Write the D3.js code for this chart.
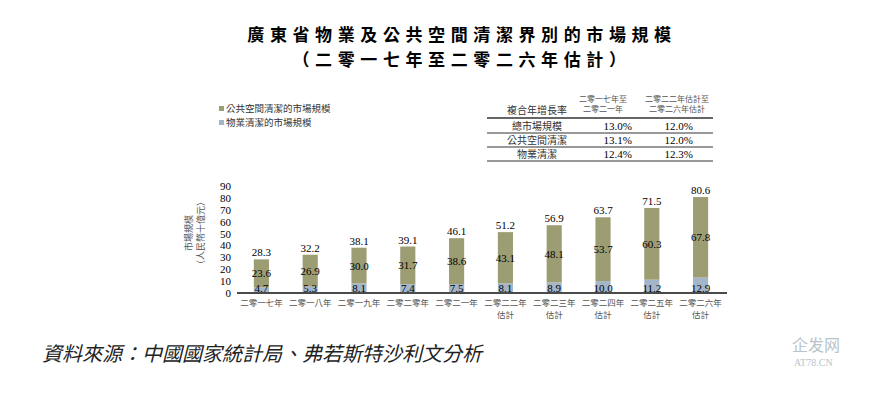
<!DOCTYPE html>
<html>
<head>
<meta charset="utf-8">
<script src="https://cdn.jsdelivr.net/npm/d3@7"></script>
<style>
  body { margin: 0; background: #fff; }
  text { font-family: "Liberation Serif", "Noto Sans CJK TC", serif; }
</style>
</head>
<body>
<script>
// Data
const years = ["二零一七年", "二零一八年", "二零一九年", "二零二零年", "二零二一年",
               "二零二二年\n估計", "二零二三年\n估計", "二零二四年\n估計", "二零二五年\n估計", "二零二六年\n估計"];
const propertyCleaning = [4.7, 5.3, 8.1, 7.4, 7.5, 8.1, 8.9, 10.0, 11.2, 12.9];
const publicCleaning = [23.6, 26.9, 30.0, 31.7, 38.6, 43.1, 48.1, 53.7, 60.3, 67.8];
const totals = [28.3, 32.2, 38.1, 39.1, 46.1, 51.2, 56.9, 63.7, 71.5, 80.6];
const yTicks = [0, 10, 20, 30, 40, 50, 60, 70, 80, 90];
const seriesNames = ["公共空間清潔的市場規模", "物業清潔的市場規模"];
const cagrHeader = ["複合年增長率", "二零一七年至\n二零二一年", "二零二二年估計至\n二零二六年估計"];
const cagrRows = [
  ["總市場規模", "13.0%", "12.0%"],
  ["公共空間清潔", "13.1%", "12.0%"],
  ["物業清潔", "12.4%", "12.3%"]
];

const W = 871, H = 393;
const colPublic = "#9d9d74", colProperty = "#a3b5c9";

const svg = d3.select("body").append("svg")
    .attr("width", W)
    .attr("height", H);

// Title
svg.append("text").attr("x", 462).attr("y", 41).attr("text-anchor", "middle")
    .attr("font-size", 17).attr("font-weight", "bold").attr("letter-spacing", 5.6)
    .style("font-family", "'Noto Sans CJK TC'")
    .text("廣東省物業及公共空間清潔界別的市場規模");
svg.append("text").attr("x", 462).attr("y", 66).attr("text-anchor", "middle")
    .attr("font-size", 17).attr("font-weight", "bold").attr("letter-spacing", 5.6)
    .style("font-family", "'Noto Sans CJK TC'")
    .text("（二零一七年至二零二六年估計）");

// Scales
const x = d3.scaleBand().domain(years).range([237, 725]).paddingInner(0.69).paddingOuter(0.345);
const y = d3.scaleLinear().domain([0, 90]).range([293, 186]);

// Stacked bars
const stacked = years.map((yr, i) => ({ yr, prop: propertyCleaning[i], pub: publicCleaning[i], total: totals[i] }));

svg.selectAll(".bar-prop").data(stacked).enter().append("rect")
    .attr("x", d => x(d.yr)).attr("width", x.bandwidth())
    .attr("y", d => y(d.prop)).attr("height", d => y(0) - y(d.prop))
    .attr("fill", colProperty);

svg.selectAll(".bar-pub").data(stacked).enter().append("rect")
    .attr("x", d => x(d.yr)).attr("width", x.bandwidth())
    .attr("y", d => y(d.prop + d.pub)).attr("height", d => y(d.prop) - y(d.prop + d.pub))
    .attr("fill", colPublic);

// Value labels
const cx = d => x(d.yr) + x.bandwidth() / 2;
svg.selectAll(".lbl-total").data(stacked).enter().append("text")
    .attr("x", cx).attr("y", d => y(d.prop + d.pub) - 3)
    .attr("text-anchor", "middle").attr("font-size", 11).text(d => d.total.toFixed(1));
svg.selectAll(".lbl-pub").data(stacked).enter().append("text")
    .attr("x", cx).attr("y", d => y(d.prop + d.pub / 2) + 4)
    .attr("text-anchor", "middle").attr("font-size", 11).text(d => d.pub.toFixed(1));
svg.selectAll(".lbl-prop").data(stacked).enter().append("text")
    .attr("x", cx).attr("y", 292)
    .attr("text-anchor", "middle").attr("font-size", 11).text(d => d.prop.toFixed(1));

// X axis line
svg.append("line").attr("x1", 237).attr("x2", 727).attr("y1", y(0)).attr("y2", y(0))
    .attr("stroke", "#4a4a4a").attr("stroke-width", 2);

// X labels
years.forEach(yr => {
  yr.split("\n").forEach((ln, j) => {
    svg.append("text").attr("x", x(yr) + x.bandwidth() / 2).attr("y", 306 + j * 12)
      .attr("text-anchor", "middle").attr("font-size", 8.5).attr("fill", "#555")
      .style("font-family", "'Noto Sans CJK TC'").text(ln);
  });
});

// Y ticks
svg.selectAll(".ytick").data(yTicks).enter().append("text")
    .attr("x", 231).attr("y", d => y(d) + 4)
    .attr("text-anchor", "end").attr("font-size", 11).text(d => d);

// Y title
svg.append("text").attr("transform", `translate(192,233) rotate(-90)`)
    .attr("text-anchor", "middle").attr("font-size", 9).attr("fill", "#555")
    .style("font-family", "'Noto Sans CJK TC'").text("市場規模");
svg.append("text").attr("transform", `translate(204,233) rotate(-90)`)
    .attr("text-anchor", "middle").attr("font-size", 9).attr("fill", "#555")
    .style("font-family", "'Noto Sans CJK TC'").text("（人民幣十億元）");

// Legend
[colPublic, colProperty].forEach((c, i) => {
  svg.append("rect").attr("x", 219).attr("y", 106 + i * 14).attr("width", 5).attr("height", 5).attr("fill", c);
  svg.append("text").attr("x", 226).attr("y", 112 + i * 14).attr("font-size", 9.5).attr("fill", "#333")
    .style("font-family", "'Noto Sans CJK TC'").text(seriesNames[i]);
});

// CAGR table
const tL = 487, tR = 713;
const colX = [537, 632, 693];
svg.append("text").attr("x", colX[0]).attr("y", 114).attr("text-anchor", "middle")
    .attr("font-size", 10).attr("fill", "#333").style("font-family", "'Noto Sans CJK TC'").text(cagrHeader[0]);
[603, 677].forEach((hx, k) => {
  cagrHeader[k + 1].split("\n").forEach((ln, j) => {
    svg.append("text").attr("x", hx).attr("y", 102 + j * 10).attr("text-anchor", "middle")
      .attr("font-size", 8).attr("fill", "#555").style("font-family", "'Noto Sans CJK TC'").text(ln);
  });
});
[118, 133, 147, 161].forEach((ly, i) => {
  svg.append("line").attr("x1", tL).attr("x2", tR).attr("y1", ly).attr("y2", ly)
    .attr("stroke", "#333").attr("stroke-width", i === 0 ? 1.5 : 1);
});
cagrRows.forEach((row, i) => {
  const ry = 130 + i * 14;
  svg.append("text").attr("x", colX[0]).attr("y", ry).attr("text-anchor", "middle")
    .attr("font-size", 10).attr("fill", "#333").style("font-family", "'Noto Sans CJK TC'").text(row[0]);
  svg.append("text").attr("x", colX[1]).attr("y", ry).attr("text-anchor", "end")
    .attr("font-size", 11).text(row[1]);
  svg.append("text").attr("x", colX[2]).attr("y", ry).attr("text-anchor", "end")
    .attr("font-size", 11).text(row[2]);
});

// Source
svg.append("text").attr("x", 42).attr("y", 361).attr("font-size", 20)
    .attr("font-style", "italic").attr("fill", "#222")
    .style("font-family", "'Noto Sans CJK TC'")
    .text("資料來源：中國國家統計局、弗若斯特沙利文分析");

// Watermark
svg.append("text").attr("x", 792).attr("y", 351).attr("font-size", 16).attr("fill", "#b8c4cc")
    .style("font-family", "'Noto Sans CJK SC'").text("企发网");
svg.append("text").attr("x", 794).attr("y", 366).attr("font-size", 10).attr("fill", "#b8c4cc")
    .text("AT78.CN");
</script>
</body>
</html>
